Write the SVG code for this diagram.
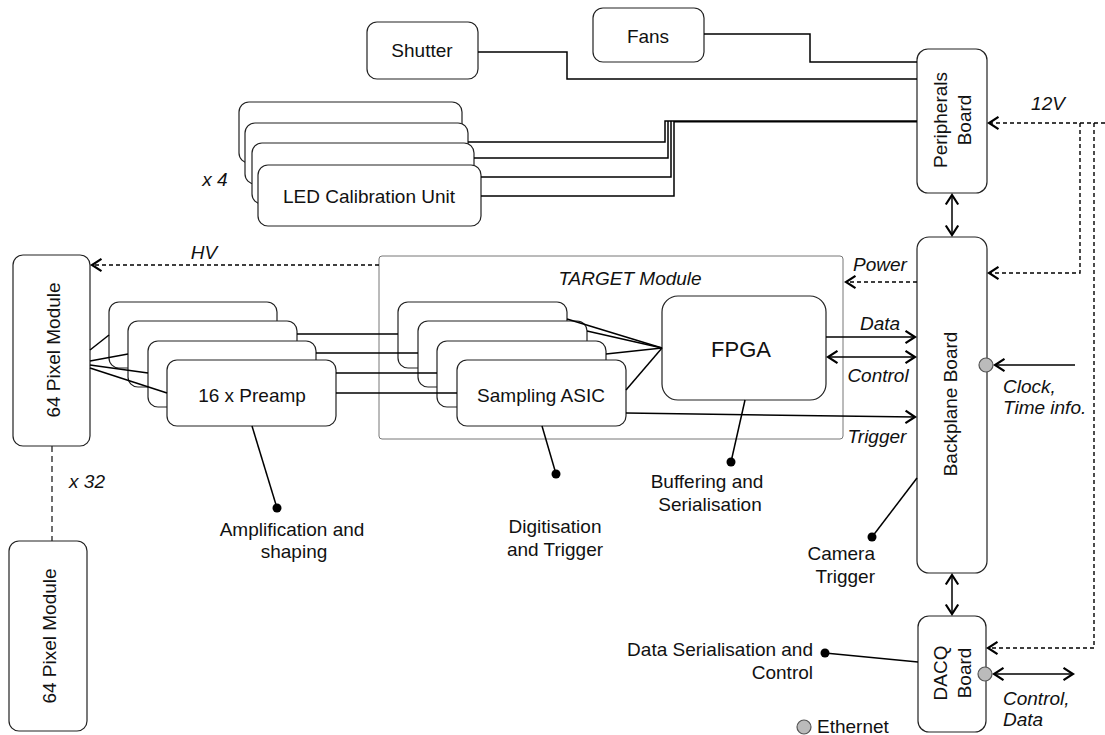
<svg xmlns="http://www.w3.org/2000/svg" width="1105" height="735" viewBox="0 0 1105 735">
<defs>
<style>
text{font-family:"Liberation Sans",Arial,Helvetica,sans-serif;font-size:19px;fill:#111}
.it{font-style:italic}
.mid{text-anchor:middle}
.end{text-anchor:end}
.node{fill:#fff;stroke:#222;stroke-width:1.2}
.tgt{fill:#fff;stroke:#777;stroke-width:1}
.ln{fill:none;stroke:#000;stroke-width:1.5}
.dash{fill:none;stroke:#000;stroke-width:1.4;stroke-dasharray:4 3}
.eth{fill:#bbb;stroke:#555;stroke-width:1.2}
</style>
<marker id="ah" markerWidth="16" markerHeight="16" refX="12" refY="8" orient="auto-start-reverse" markerUnits="userSpaceOnUse">
<path d="M2.5,1.8 L12,8 L2.5,14.2" fill="none" stroke="#000" stroke-width="2.2"/>
</marker>
</defs>
<rect width="1105" height="735" fill="#fff"/>

<g id="target-module"><rect class="tgt" x="379" y="256" width="464" height="183" rx="3"/><text class="it mid" x="630" y="285">TARGET Module</text></g>

<g id="shutter"><rect class="node" x="367" y="22" width="111" height="57" rx="10"/><text class="mid" x="422" y="57">Shutter</text></g>
<g id="fans"><rect class="node" x="593" y="8" width="111" height="54" rx="10"/><text class="mid" x="648" y="43">Fans</text></g>

<g id="led-units">
<rect class="node" x="239" y="102" width="223" height="61" rx="10"/>
<rect class="node" x="245" y="123" width="223" height="61" rx="10"/>
<rect class="node" x="252" y="143" width="222" height="61" rx="10"/>
<rect class="node" x="258" y="165" width="223" height="61" rx="10"/>
<text class="mid" x="369" y="203">LED Calibration Unit</text>
</g>
<text class="it mid" x="215" y="186">x 4</text>

<g id="peripherals-board"><rect class="node" x="917" y="49" width="70" height="144" rx="11"/>
<text class="mid" transform="translate(947,120) rotate(-90)">Peripherals</text>
<text class="mid" transform="translate(971,120) rotate(-90)">Board</text></g>

<g id="pixel-module-1"><rect class="node" x="13" y="255" width="77" height="191" rx="10"/><text class="mid" transform="translate(60,350) rotate(-90)">64 Pixel Module</text></g>
<g id="pixel-module-2"><rect class="node" x="9" y="541" width="78" height="190" rx="10"/><text class="mid" transform="translate(56,636) rotate(-90)">64 Pixel Module</text></g>
<text class="it mid" x="87" y="488">x 32</text>

<g id="preamps">
<rect class="node" x="109" y="302" width="168" height="66" rx="10"/>
<rect class="node" x="128" y="321" width="169" height="66" rx="10"/>
<rect class="node" x="148" y="341" width="168" height="66" rx="10"/>
<rect class="node" x="167" y="360" width="169" height="66" rx="10"/>
<text class="mid" x="252" y="402">16 x Preamp</text>
</g>

<g id="sampling-asics">
<rect class="node" x="398" y="302" width="169" height="66" rx="10"/>
<rect class="node" x="418" y="321" width="169" height="66" rx="10"/>
<rect class="node" x="437" y="341" width="169" height="66" rx="10"/>
<rect class="node" x="457" y="360" width="169" height="66" rx="10"/>
<text class="mid" x="541" y="402">Sampling ASIC</text>
</g>

<g id="fpga"><rect class="node" x="662" y="296" width="164" height="104" rx="16"/><text class="mid" x="741" y="357" style="font-size:22px">FPGA</text></g>

<g id="backplane-board"><rect class="node" x="917" y="237" width="70" height="336" rx="12"/><text class="mid" transform="translate(957,404) rotate(-90)">Backplane Board</text></g>

<g id="dacq-board"><rect class="node" x="918" y="616" width="68" height="116" rx="11"/>
<text class="mid" transform="translate(947,673) rotate(-90)">DACQ</text>
<text class="mid" transform="translate(971,673) rotate(-90)">Board</text></g>

<g id="connectors">
<path class="ln" d="M478,52 H567 V79 H917"/>
<path class="ln" d="M704,34 H810 V62 H917"/>
<path class="ln" d="M468,142 H665 V121 H917"/>
<path class="ln" d="M474,158 H668 V121"/>
<path class="ln" d="M481,177 H671 V121"/>
<path class="ln" d="M481,196 H674 V121"/>
<line class="ln" x1="674" y1="121.8" x2="917" y2="121.8"/>
<line class="ln" x1="90" y1="350" x2="109" y2="335"/>
<line class="ln" x1="90" y1="361" x2="128" y2="354"/>
<line class="ln" x1="90" y1="365" x2="148" y2="373"/>
<line class="ln" x1="90" y1="368" x2="167" y2="393"/>
<line class="ln" x1="297" y1="334" x2="398" y2="334"/>
<line class="ln" x1="316" y1="353" x2="418" y2="353"/>
<line class="ln" x1="336" y1="373" x2="437" y2="373"/>
<line class="ln" x1="336" y1="393" x2="457" y2="393"/>
<line class="ln" x1="567" y1="319" x2="662" y2="348"/>
<line class="ln" x1="587" y1="331" x2="662" y2="348"/>
<line class="ln" x1="606" y1="354" x2="662" y2="348"/>
<line class="ln" x1="626" y1="390" x2="662" y2="348"/>
<line class="ln" x1="826" y1="337" x2="915" y2="337" marker-end="url(#ah)"/>
<line class="ln" x1="828" y1="357" x2="915" y2="357" marker-start="url(#ah)" marker-end="url(#ah)"/>
<line class="ln" x1="626" y1="413" x2="915" y2="417" marker-end="url(#ah)"/>
<line class="dash" x1="917" y1="282" x2="846" y2="282" marker-end="url(#ah)"/>
<line class="dash" x1="379" y1="265" x2="92" y2="265" marker-end="url(#ah)"/>
<path class="dash" d="M1105,123 H989" marker-end="url(#ah)"/>
<path class="dash" d="M1080,123 V273 H989" marker-end="url(#ah)"/>
<path class="dash" d="M1094,123 V648 H988" marker-end="url(#ah)"/>
<line class="ln" x1="952" y1="195" x2="952" y2="235" marker-start="url(#ah)" marker-end="url(#ah)"/>
<line class="ln" x1="952" y1="575" x2="952" y2="614" marker-start="url(#ah)" marker-end="url(#ah)"/>
<line class="ln" x1="1075" y1="365" x2="995" y2="365" marker-end="url(#ah)"/>
<line class="ln" x1="994" y1="674" x2="1073" y2="674" marker-start="url(#ah)" marker-end="url(#ah)"/>
<line x1="52" y1="446" x2="52" y2="541" stroke="#222" stroke-width="1.3" stroke-dasharray="6 4"/>
<line class="ln" x1="252" y1="426" x2="277" y2="508"/>
<line class="ln" x1="542" y1="426" x2="556" y2="474"/>
<line class="ln" x1="745" y1="400" x2="731" y2="462"/>
<line class="ln" x1="917" y1="478" x2="872" y2="537"/>
<line class="ln" x1="918" y1="662" x2="825" y2="653"/>
</g>

<g id="dots">
<circle cx="277" cy="508" r="4.5"/>
<circle cx="556" cy="474" r="4.5"/>
<circle cx="731" cy="462" r="4.5"/>
<circle cx="872" cy="537" r="4.5"/>
<circle cx="825" cy="653" r="4.5"/>
<circle class="eth" cx="986" cy="365" r="7"/>
<circle class="eth" cx="985" cy="674" r="7"/>
<circle class="eth" cx="804" cy="727" r="7"/>
</g>

<g id="labels">
<text class="it mid" x="1048" y="110">12V</text>
<text class="it mid" x="204" y="259">HV</text>
<text class="it mid" x="880" y="271">Power</text>
<text class="it mid" x="880" y="330">Data</text>
<text class="it mid" x="878" y="382">Control</text>
<text class="it mid" x="877" y="443">Trigger</text>
<text class="it" x="1003" y="393">Clock,</text>
<text class="it" x="1003" y="414">Time info.</text>
<text class="it" x="1003" y="705">Control,</text>
<text class="it" x="1003" y="726">Data</text>
<text class="mid" x="292" y="536">Amplification and</text>
<text class="mid" x="294" y="558">shaping</text>
<text class="mid" x="555" y="533">Digitisation</text>
<text class="mid" x="555" y="556">and Trigger</text>
<text class="mid" x="707" y="488">Buffering and</text>
<text class="mid" x="710" y="511">Serialisation</text>
<text class="end" x="875" y="560">Camera</text>
<text class="end" x="875" y="583">Trigger</text>
<text class="end" x="813" y="656">Data Serialisation and</text>
<text class="end" x="813" y="679">Control</text>
<text x="817" y="733">Ethernet</text>
</g>
</svg>
